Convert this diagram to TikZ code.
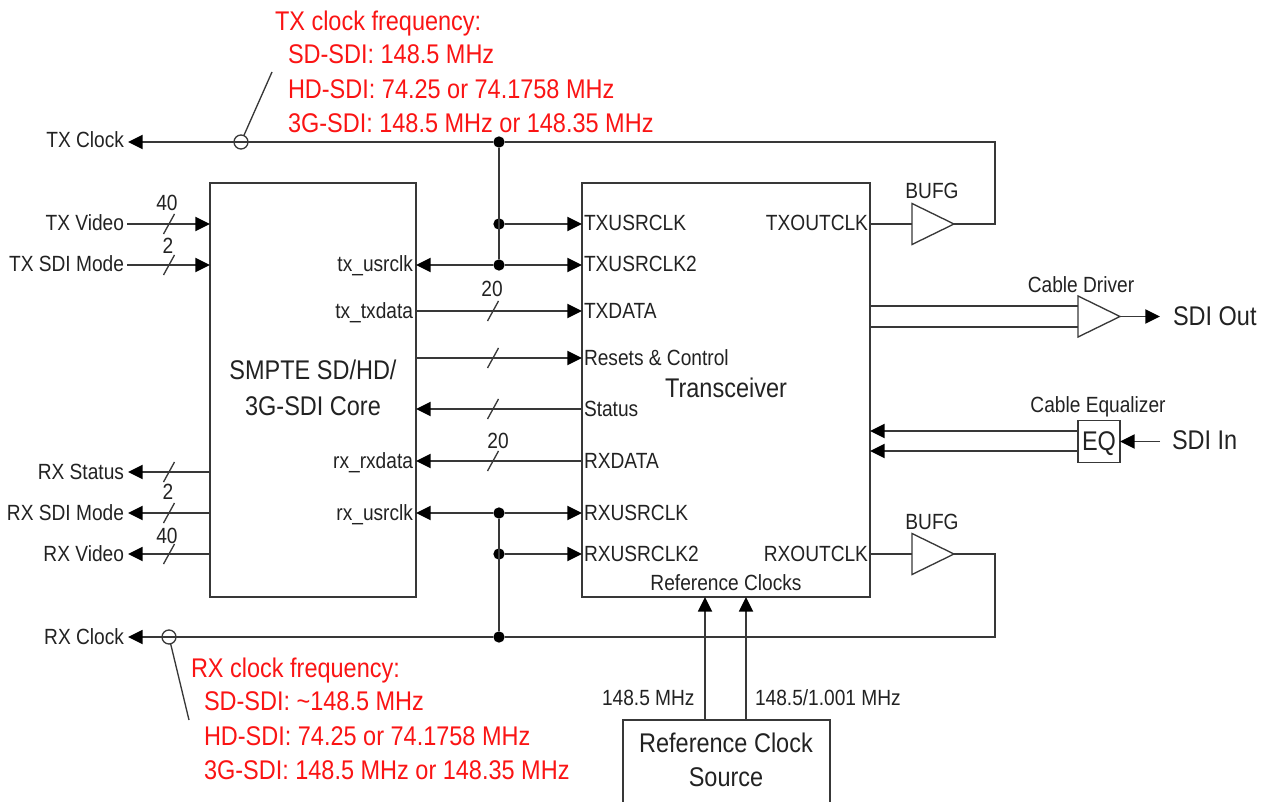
\documentclass[tikz,border=0pt]{standalone}
\usepackage{fontspec}
\setmainfont[FakeStretch=0.87]{Liberation Sans}
\usetikzlibrary{arrows.meta,shapes.geometric}
\definecolor{ink}{HTML}{222222}
\definecolor{wire}{HTML}{383838}
\definecolor{note}{HTML}{FA1414}
\tikzset{
  wirestyle/.style={draw=wire,line width=1.4pt},
  toarrow/.style={wirestyle,-{Triangle[length=11pt,width=10.5pt,color=black]}},
  blockbox/.style={draw=wire,line width=1.4pt,rectangle,inner sep=0pt,outer sep=0pt},
  buffer/.style={draw=wire,line width=1pt,isosceles triangle,isosceles triangle stretches,
     minimum width=30.75pt,minimum height=31.5pt,inner sep=0pt,outer sep=0pt,anchor=west},
  junction/.style={circle,fill=black,inner sep=0pt,outer sep=0pt,minimum size=8.5pt},
  probe/.style={circle,draw=wire,line width=1pt,inner sep=0pt,outer sep=0pt,minimum size=10.5pt},
  lab/.style={inner sep=0pt,outer sep=0pt,text=ink,font=\fontsize{16.5pt}{18pt}\selectfont},
  biglab/.style={inner sep=0pt,outer sep=0pt,text=ink,font=\fontsize{20.25pt}{22pt}\selectfont},
  redlab/.style={inner sep=0pt,outer sep=0pt,text=note,anchor=base west,font=\fontsize{20.25pt}{22pt}\selectfont},
}
\newcommand{\busmark}[2]{\draw[draw=wire,line width=1pt] (#1-5.5,#2+10) -- (#1+5.5,#2-10);}
\begin{document}
\begin{tikzpicture}[x=0.75pt,y=-0.75pt]
\useasboundingbox (0,0) rectangle (1273,802);
\begin{scope}
\clip (0,0) rectangle (1273,802);
% blocks
\node[blockbox,minimum width=154.5pt,minimum height=310.5pt] (core) at (313,390) {};
\node[blockbox,minimum width=216pt,minimum height=310.5pt] (xcvr) at (726,390) {};
\node[blockbox,minimum width=155.25pt,minimum height=68pt] (refsrc) at (726.5,765) {};
\node[blockbox,minimum width=31.5pt,minimum height=31.5pt] (eq) at (1099,441.5) {};
\node[buffer] (buft) at (912,224) {};
\node[buffer] (bufr) at (912,554) {};
\node[buffer] (drv) at (1078,316.5) {};
% free ends
\coordinate (txclkEnd) at (128,142);
\coordinate (rxclkEnd) at (128,637);
\coordinate (txvidS) at (127,224);
\coordinate (txmodeS) at (127,265);
\coordinate (rxstatE) at (128,472);
\coordinate (rxmodeE) at (128,513);
\coordinate (rxvidE) at (128,554);
\coordinate (txcorner) at (995,142);
\coordinate (rxcorner) at (995,637);
\coordinate (sdioutE) at (1160,316.5);
\coordinate (sdiinS) at (1160,441.5);
% junctions
\node[junction] (j0) at (499,142) {};
\node[junction] (j1) at (499,224) {};
\node[junction] (j2) at (499,265) {};
\node[junction] (j3) at (499,513) {};
\node[junction] (j4) at (499,554) {};
\node[junction] (j5) at (499,637) {};
% clock trunks
\draw[wirestyle] (bufr.apex) -| (rxcorner) -- (j5);
\draw[toarrow] (j5) -- (rxclkEnd);
\draw[wirestyle] (buft.apex) -| (txcorner) -- (j0);
\draw[toarrow] (j0) -- (txclkEnd);
\draw[wirestyle] (j0) -- (j2);
\draw[wirestyle] (j3) -- (j5);
\draw[toarrow] (j1) -- (xcvr.west |- j1);
\draw[toarrow] (j2) -- (xcvr.west |- j2);
\draw[toarrow] (j2) -- (core.east |- j2);
\draw[toarrow] (j3) -- (xcvr.west |- j3);
\draw[toarrow] (j3) -- (core.east |- j3);
\draw[toarrow] (j4) -- (xcvr.west |- j4);
\draw[wirestyle] (xcvr.east |- buft.west) -- (buft.west);
\draw[wirestyle] (xcvr.east |- bufr.west) -- (bufr.west);
% probes
\node[probe] (ptx) at (241,142) {};
\node[probe] (prx) at (169,637) {};
\coordinate (ptxE) at (272,72);
\coordinate (prxE) at (189,720);
\draw[draw=wire,line width=1pt] (ptx) -- (ptxE);
\draw[draw=wire,line width=1pt] (prx) -- (prxE);
% core side signals
\draw[toarrow] (txvidS) -- (core.west |- txvidS);
\draw[toarrow] (txmodeS) -- (core.west |- txmodeS);
\draw[toarrow] (core.west |- rxstatE) -- (rxstatE);
\draw[toarrow] (core.west |- rxmodeE) -- (rxmodeE);
\draw[toarrow] (core.west |- rxvidE) -- (rxvidE);
% between blocks
\coordinate (ytxd) at (0,311);
\coordinate (yrst) at (0,358);
\coordinate (ysta) at (0,409);
\coordinate (yrxd) at (0,461);
\draw[toarrow] (core.east |- ytxd) -- (xcvr.west |- ytxd);
\draw[toarrow] (core.east |- yrst) -- (xcvr.west |- yrst);
\draw[toarrow] (xcvr.west |- ysta) -- (core.east |- ysta);
\draw[toarrow] (xcvr.west |- yrxd) -- (core.east |- yrxd);
% bus marks
\busmark{169}{224}\busmark{169}{265}\busmark{169}{472}\busmark{169}{513}\busmark{169}{554}
\busmark{493}{311}\busmark{493}{358}\busmark{493}{409}\busmark{493}{461}
% right side
\coordinate (ydrvA) at (0,306);
\coordinate (ydrvB) at (0,327);
\coordinate (yeqA) at (0,431);
\coordinate (yeqB) at (0,451);
\draw[wirestyle] (xcvr.east |- ydrvA) -- (drv.west |- ydrvA);
\draw[wirestyle] (xcvr.east |- ydrvB) -- (drv.west |- ydrvB);
\draw[toarrow] (drv.apex) -- (sdioutE);
\draw[toarrow] (eq.west |- yeqA) -- (xcvr.east |- yeqA);
\draw[toarrow] (eq.west |- yeqB) -- (xcvr.east |- yeqB);
\draw[toarrow] (sdiinS) -- (eq.east |- sdiinS);
% reference clocks
\coordinate (xa) at (705,0);
\coordinate (xb) at (746,0);
\draw[toarrow] (refsrc.north -| xa) -- (xcvr.south -| xa);
\draw[toarrow] (refsrc.north -| xb) -- (xcvr.south -| xb);
\end{scope}
% left labels
\node[lab,anchor=base east] (lTxClock) at (124,148) {TX Clock};
\node[lab,anchor=base east] (lTxVideo) at (124,230) {TX Video};
\node[lab,anchor=base east] (lTxMode) at (124,272) {TX SDI Mode};
\node[lab,anchor=base east] (lRxStat) at (124,479) {RX Status};
\node[lab,anchor=base east] (lRxMode) at (124,520) {RX SDI Mode};
\node[lab,anchor=base east] (lRxVideo) at (124,561) {RX Video};
\node[lab,anchor=base east] (lRxClock) at (124,644) {RX Clock};
% bus widths
\node[lab,anchor=base] (n1) at (167,211) {40};
\node[lab,anchor=base] (n2) at (168,253) {2};
\node[lab,anchor=base] (n3) at (168,499) {2};
\node[lab,anchor=base] (n4) at (167,543) {40};
\node[lab,anchor=base] (n5) at (492,296) {20};
\node[lab,anchor=base] (n6) at (498,448) {20};
% core labels
\node[lab,anchor=base east] (cp1) at (413,272) {tx\_usrclk};
\node[lab,anchor=base east] (cp2) at (413,318) {tx\_txdata};
\node[lab,anchor=base east] (cp3) at (413,468) {rx\_rxdata};
\node[lab,anchor=base east] (cp4) at (413,520) {rx\_usrclk};
\node[biglab,anchor=base] (ct1) at (313,379) {SMPTE SD/HD/};
\node[biglab,anchor=base] (ct2) at (313,415) {3G-SDI Core};
% transceiver labels
\node[lab,anchor=base west] (xp1) at (584,231) {TXUSRCLK};
\node[lab,anchor=base west] (xp2) at (584,272) {TXUSRCLK2};
\node[lab,anchor=base west] (xp3) at (584,318) {TXDATA};
\node[lab,anchor=base west] (xp4) at (584,365) {Resets \& Control};
\node[lab,anchor=base west] (xp5) at (584,416) {Status};
\node[lab,anchor=base west] (xp6) at (584,468) {RXDATA};
\node[lab,anchor=base west] (xp7) at (584,520) {RXUSRCLK};
\node[lab,anchor=base west] (xp8) at (584,561) {RXUSRCLK2};
\node[lab,anchor=base east] (xp9) at (868,231) {TXOUTCLK};
\node[lab,anchor=base east] (xp10) at (868,561) {RXOUTCLK};
\node[lab,anchor=base] (xp11) at (726,590) {Reference Clocks};
\node[biglab,anchor=base] (xt) at (726,397) {Transceiver};
% right labels
\node[lab,anchor=base] (lb1) at (932,199) {BUFG};
\node[lab,anchor=base] (lb2) at (932,529) {BUFG};
\node[lab,anchor=base] (ld) at (1081,292) {Cable Driver};
\node[lab,anchor=base] (le) at (1098,412) {Cable Equalizer};
\node[biglab,anchor=base] (leq) at (1099,450) {EQ};
\node[biglab,anchor=base west] (lo) at (1173,325) {SDI Out};
\node[biglab,anchor=base west] (li) at (1172,449) {SDI In};
% reference
\node[lab,anchor=base west] (lf1) at (602,705) {148.5 MHz};
\node[lab,anchor=base west] (lf2) at (755,705) {148.5/1.001 MHz};
\node[biglab,anchor=base] (rs1) at (726,752) {Reference Clock};
\node[biglab,anchor=base] (rs2) at (726,786) {Source};
% notes
\node[redlab] (r1) at (275,31) {TX clock frequency:};
\node[redlab] (r2) at (288,64) {SD-SDI: 148.5 MHz};
\node[redlab] (r3) at (288,99) {HD-SDI: 74.25 or 74.1758 MHz};
\node[redlab] (r4) at (288,133) {3G-SDI: 148.5 MHz or 148.35 MHz};
\node[redlab] (r5) at (191,677) {RX clock frequency:};
\node[redlab] (r6) at (204,710) {SD-SDI: \char`~148.5 MHz};
\node[redlab] (r7) at (204,745) {HD-SDI: 74.25 or 74.1758 MHz};
\node[redlab] (r8) at (204,779) {3G-SDI: 148.5 MHz or 148.35 MHz};
\end{tikzpicture}
\end{document}
